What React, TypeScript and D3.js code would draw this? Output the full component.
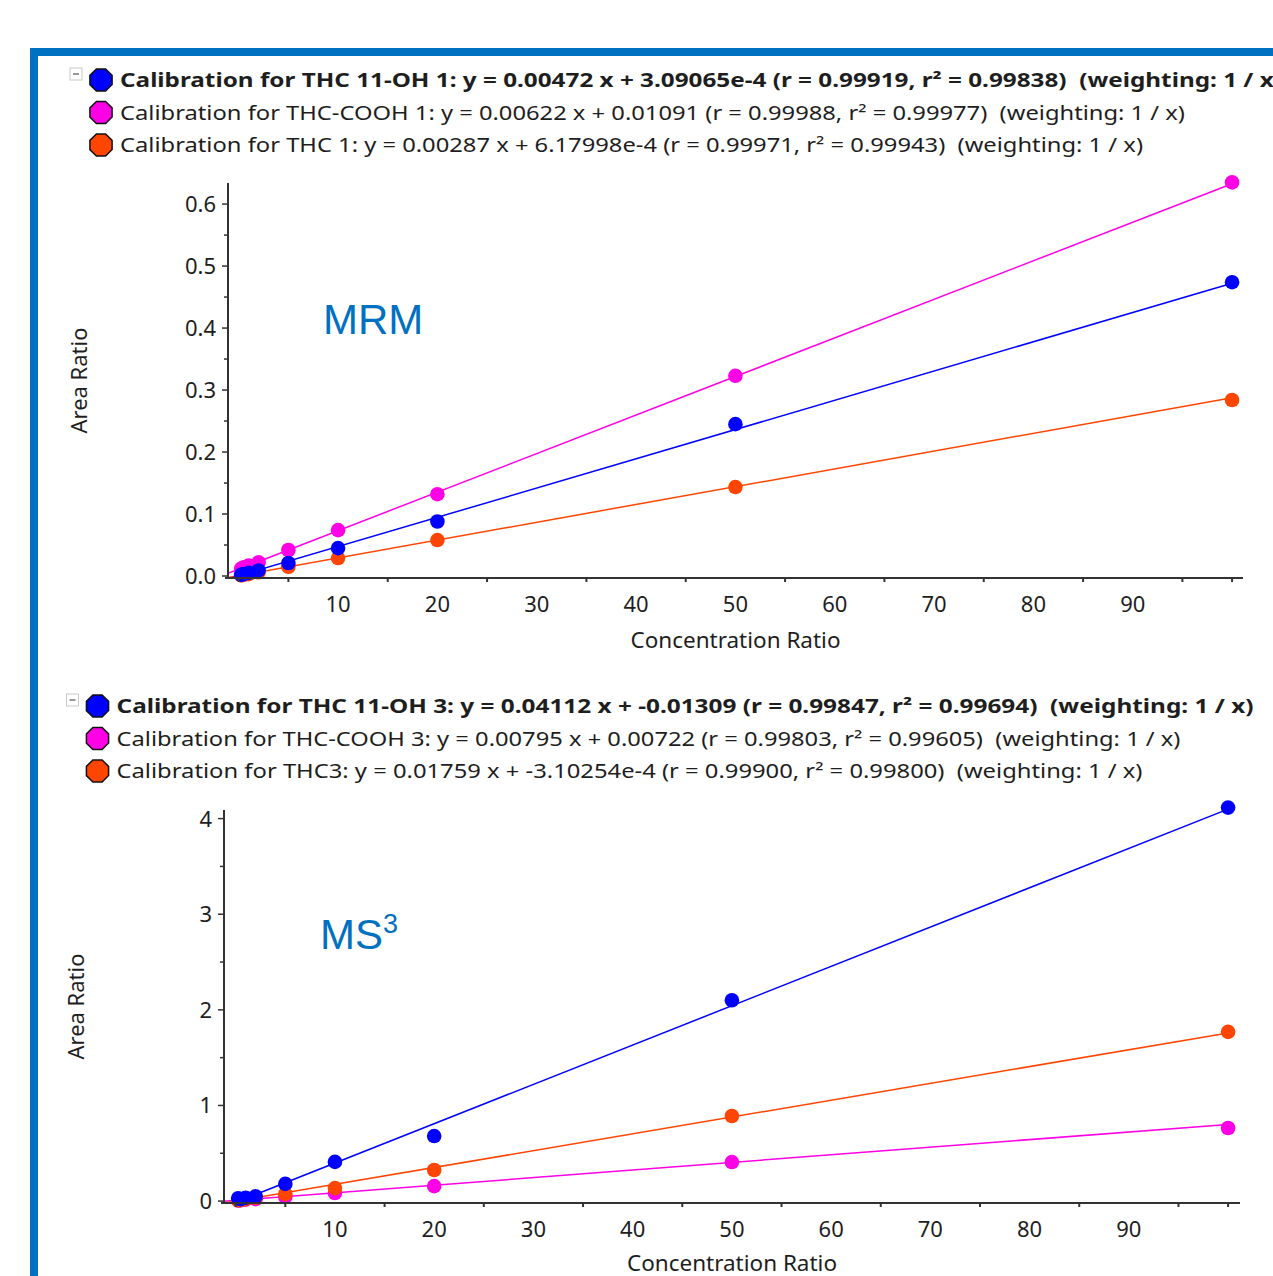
import { useEffect } from "react";
import * as d3 from "d3";

const W = 1273;
const H = 1276;
const FONT = "'Noto Sans', 'Open Sans', sans-serif";
const FRAME = "#0070c0";

const BLUE = "#0000ff";
const MAGENTA = "#ff00e6";
const ORANGE = "#ff4500";

// concentration levels used in both calibrations
const concentrations = [0.25, 0.5, 1, 2, 5, 10, 20, 50, 100];

// MRM calibration (top)
const mrmOh = [0.002, 0.003, 0.005, 0.009, 0.021, 0.045, 0.088, 0.245, 0.474];
const mrmCooh = [0.012, 0.014, 0.017, 0.022, 0.042, 0.074, 0.132, 0.323, 0.635];
const mrmThc = [0.001, 0.002, 0.003, 0.006, 0.015, 0.029, 0.058, 0.1435, 0.284];

// MS3 calibration (bottom)
const ms3Oh = [0.03, 0.02, 0.035, 0.05, 0.18, 0.41, 0.68, 2.1, 4.115];
const ms3Cooh = [0.005, 0.01, 0.015, 0.02, 0.045, 0.084, 0.157, 0.408, 0.764];
const ms3Thc = [0.01, 0.01, 0.02, 0.035, 0.075, 0.136, 0.325, 0.89, 1.77];

// fitted lines [slope, intercept]
const mrmFits = { oh: [0.00472, 3.09065e-4], cooh: [0.00622, 0.01091], thc: [0.00287, 6.17998e-4] };
const ms3Fits = { oh: [0.04112, -0.01309], cooh: [0.00795, 0.00722], thc: [0.01759, -3.10254e-4] };

const mrmLegend = [
  "Calibration for THC 11-OH 1: y = 0.00472 x + 3.09065e-4 (r = 0.99919, r\u00b2 = 0.99838)  (weighting: 1 / x)",
  "Calibration for THC-COOH 1: y = 0.00622 x + 0.01091 (r = 0.99988, r\u00b2 = 0.99977)  (weighting: 1 / x)",
  "Calibration for THC 1: y = 0.00287 x + 6.17998e-4 (r = 0.99971, r\u00b2 = 0.99943)  (weighting: 1 / x)",
];
const ms3Legend = [
  "Calibration for THC 11-OH 3: y = 0.04112 x + -0.01309 (r = 0.99847, r\u00b2 = 0.99694)  (weighting: 1 / x)",
  "Calibration for THC-COOH 3: y = 0.00795 x + 0.00722 (r = 0.99803, r\u00b2 = 0.99605)  (weighting: 1 / x)",
  "Calibration for THC3: y = 0.01759 x + -3.10254e-4 (r = 0.99900, r\u00b2 = 0.99800)  (weighting: 1 / x)",
];

const xLabelTicks = [10, 20, 30, 40, 50, 60, 70, 80, 90];
const xSmallTicks = [0, 5, 15, 25, 35, 45, 55, 65, 75, 85, 95, 100];
const mrmYTicks = [0, 0.1, 0.2, 0.3, 0.4, 0.5, 0.6];
const mrmYMinor = [0.05, 0.15, 0.25, 0.35, 0.45, 0.55];
const ms3YTicks = [0, 1, 2, 3, 4];
const ms3YMinor = [0.5, 1.5, 2.5, 3.5];

function octagon(cx, cy, r) {
  const pts = d3.range(8).map((i) => {
    const a = Math.PI / 8 + (i * Math.PI) / 4;
    return `${cx + r * Math.cos(a)},${cy + r * Math.sin(a)}`;
  });
  return pts.join(" ");
}

function Legend({ x, y, rows, lengths, colors }) {
  return (
    <g>
      <rect x={x - 31} y={y - 12} width={12} height={12} fill="#fff" stroke="#c8c8c8" />
      <line x1={x - 28} x2={x - 22} y1={y - 6} y2={y - 6} stroke="#333" />
      {rows.map((t, i) => (
        <g key={i}>
          <polygon points={octagon(x, y + i * 32.5, 12)} fill={colors[i]} stroke="#111" strokeWidth={1.5} />
          <text
            x={x + 19}
            y={y + i * 32.5 + 7}
            fontFamily={FONT}
            fontSize={19}
            fontWeight={i === 0 ? 700 : 400}
            fill="#1e1e1e"
            textLength={lengths[i]}
            lengthAdjust="spacingAndGlyphs"
            style={{ whiteSpace: "pre" }}
          >
            {t}
          </text>
        </g>
      ))}
    </g>
  );
}

function CalPlot({ id, xr, yr, xd, yd, series, yTicks, yMinor, yFmt, yTitleX, xTitleY, note }) {
  const x = d3.scaleLinear().domain(xd).range(xr);
  const y = d3.scaleLinear().domain(yd).range(yr);
  const line = d3
    .line()
    .x((d) => x(d[0]))
    .y((d) => y(d[1]));
  const ink = "#1e1e1e";
  return (
    <g>
      <defs>
        <clipPath id={id}>
          <rect x={xr[0]} y={yr[1] - 10} width={xr[1] - xr[0] + 10} height={yr[0] - yr[1] + 10} />
        </clipPath>
      </defs>
      {series.map((s, i) => (
        <g key={i}>
          <path
            d={line([xd[0], 100].map((v) => [v, s.fit[0] * v + s.fit[1]]))}
            fill="none"
            stroke={s.color}
            strokeWidth={1.5}
            clipPath={`url(#${id})`}
          />
          {concentrations.map((c, j) => (
            <circle key={j} cx={x(c)} cy={y(s.values[j])} r={7.3} fill={s.color} />
          ))}
        </g>
      ))}
      <line x1={xr[0]} x2={xr[0]} y1={yr[0]} y2={yr[1]} stroke="#333" strokeWidth={2} />
      <line x1={xr[0] - 3} x2={xr[1]} y1={yr[0]} y2={yr[0]} stroke="#333" strokeWidth={2} />
      {yTicks.map((t) => (
        <g key={t}>
          <line x1={xr[0] - 6} x2={xr[0]} y1={y(t)} y2={y(t)} stroke="#333" strokeWidth={1.5} />
          <text x={xr[0] - 12} y={y(t) + 8} textAnchor="end" fontFamily={FONT} fontSize={22} fill={ink}>
            {yFmt(t)}
          </text>
        </g>
      ))}
      {yMinor.map((t) => (
        <line key={t} x1={xr[0] - 4} x2={xr[0]} y1={y(t)} y2={y(t)} stroke="#333" strokeWidth={1.5} />
      ))}
      {xSmallTicks.map((t) => (
        <line key={t} x1={x(t)} x2={x(t)} y1={yr[0]} y2={yr[0] + 4} stroke="#333" strokeWidth={2} />
      ))}
      {xLabelTicks.map((t) => (
        <text key={t} x={x(t)} y={yr[0] + 34} textAnchor="middle" fontFamily={FONT} fontSize={22} fill={ink}>
          {t}
        </text>
      ))}
      <text
        x={(xr[0] + xr[1]) / 2}
        y={xTitleY}
        textAnchor="middle"
        fontFamily={FONT}
        fontSize={21}
        fill={ink}
        textLength={210}
        lengthAdjust="spacingAndGlyphs"
      >
        Concentration Ratio
      </text>
      <text
        transform={`translate(${yTitleX},${(yr[0] + yr[1]) / 2}) rotate(-90)`}
        textAnchor="middle"
        fontFamily={FONT}
        fontSize={21}
        fill={ink}
        textLength={106}
        lengthAdjust="spacingAndGlyphs"
      >
        Area Ratio
      </text>
      {note}
    </g>
  );
}

export default function App() {
  useEffect(() => {
    document.body.style.margin = "0";
  }, []);

  const topSeries = [
    { color: ORANGE, values: mrmThc, fit: mrmFits.thc },
    { color: MAGENTA, values: mrmCooh, fit: mrmFits.cooh },
    { color: BLUE, values: mrmOh, fit: mrmFits.oh },
  ];
  const bottomSeries = [
    { color: MAGENTA, values: ms3Cooh, fit: ms3Fits.cooh },
    { color: ORANGE, values: ms3Thc, fit: ms3Fits.thc },
    { color: BLUE, values: ms3Oh, fit: ms3Fits.oh },
  ];

  return (
    <svg width={W} height={H} style={{ display: "block" }}>
      <rect width={W} height={H} fill="#fff" />
      <rect x={30} y={48} width={W} height={8} fill={FRAME} />
      <rect x={30} y={48} width={8} height={H} fill={FRAME} />

      <Legend x={101} y={80} rows={mrmLegend} lengths={[1162, 1065, 1023]} colors={[BLUE, MAGENTA, ORANGE]} />
      <CalPlot
        id="clipTop"
        xr={[228, 1243]}
        yr={[578, 183]}
        xd={[-1.08, 101.1]}
        yd={[-0.0032, 0.634]}
        series={topSeries}
        yTicks={mrmYTicks}
        yMinor={mrmYMinor}
        yFmt={(v) => v.toFixed(1)}
        yTitleX={87}
        xTitleY={648}
        note={
          <text x={323} y={334} fontFamily="'Liberation Sans', Arial, sans-serif" fontSize={42} fill={FRAME}>
            MRM
          </text>
        }
      />

      <Legend x={97.5} y={706} rows={ms3Legend} lengths={[1137, 1064, 1026]} colors={[BLUE, MAGENTA, ORANGE]} />
      <CalPlot
        id="clipBottom"
        xr={[224, 1240]}
        yr={[1203, 810]}
        xd={[-1.18, 101.2]}
        yd={[-0.02, 4.09]}
        series={bottomSeries}
        yTicks={ms3YTicks}
        yMinor={ms3YMinor}
        yFmt={(v) => String(v)}
        yTitleX={84}
        xTitleY={1271}
        note={
          <text x={320} y={949} fontFamily="'Liberation Sans', Arial, sans-serif" fontSize={42} fill={FRAME}>
            MS
            <tspan dy={-16} fontSize={27}>
              3
            </tspan>
          </text>
        }
      />
    </svg>
  );
}
